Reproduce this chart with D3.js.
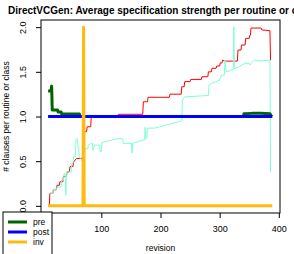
<!DOCTYPE html>
<html>
<head>
  <meta charset="UTF-8">
  <script src="https://d3js.org/d3.v7.min.js"></script>
  <style>
    body { margin: 0; padding: 0; background: #fff; }
    svg { display: block; font-family: "Liberation Sans", Arial, sans-serif; }
  </style>
</head>
<body>
<script>
  // series (revision, value)
  const redRev = [12, 13, 18, 19, 24, 25, 29, 30, 35, 36, 41, 42, 46, 47, 52, 53, 58, 68, 69, 75, 76, 82, 83, 128, 129, 170, 171, 178, 179, 215, 216, 235, 236, 240, 241, 250, 251, 269, 270, 280, 281, 286, 287, 294, 295, 300, 301, 304, 305, 311, 330, 331, 336, 337, 343, 344, 350, 351, 352, 353, 370, 371, 385, 386];
  const redVal = [0, 0.14, 0.14, 0.18, 0.18, 0.23, 0.23, 0.27, 0.27, 0.33, 0.33, 0.38, 0.38, 0.44, 0.44, 0.49, 0.53, 0.53, 0.83, 0.83, 0.885, 0.885, 1.01, 1.01, 1.025, 1.025, 1.165, 1.165, 1.215, 1.215, 1.25, 1.25, 1.333, 1.333, 1.39, 1.39, 1.415, 1.415, 1.445, 1.445, 1.5, 1.5, 1.54, 1.54, 1.565, 1.565, 1.6, 1.6, 1.63, 1.62, 1.62, 1.744, 1.744, 1.8, 1.8, 1.875, 1.875, 1.91, 1.91, 1.99, 1.99, 1.97, 1.96, 1.63];

  const aquaRev = [13, 18, 19, 24, 25, 32, 33, 36, 37, 39, 40, 41, 49, 50, 52, 53, 56, 57, 59, 61, 63, 66, 71, 72, 77, 78, 83, 85, 86, 88, 97, 98, 100, 101, 108, 117, 131, 136, 137, 151, 152, 153, 170, 173, 174, 175, 177, 178, 190, 199, 221, 236, 237, 241, 255, 281, 282, 286, 294, 300, 303, 308, 309, 311, 320, 323, 324, 325, 333, 342, 350, 351, 353, 359, 368, 385, 386];
  const aquaVal = [0.14, 0.14, 0.18, 0.18, 0.21, 0.21, 0.29, 0.29, 0.36, 0.36, 0.12, 0.38, 0.38, 0.475, 0.475, 0.55, 0.55, 0.74, 0.755, 0.66, 0.55, 0.51, 0.51, 0.64, 0.64, 0.68, 0.7, 0.7, 0.62, 0.68, 0.68, 0.605, 0.605, 0.706, 0.72, 0.736, 0.755, 0.755, 0.7, 0.7, 0.59, 0.7, 0.736, 0.736, 0.88, 0.755, 0.755, 0.87, 0.87, 0.885, 0.923, 0.953, 1.184, 1.22, 1.225, 1.235, 1.352, 1.37, 1.389, 1.41, 1.464, 1.464, 1.632, 1.5, 1.52, 1.52, 2.0, 1.535, 1.557, 1.595, 1.595, 1.576, 1.595, 1.632, 1.62, 1.632, 0.38];

  const preRev = [10, 15, 16, 17, 26, 27, 32, 33, 63, 64, 340, 341, 355, 370, 385, 388];
  const preVal = [1.285, 1.285, 1.34, 1.072, 1.072, 1.05, 1.05, 1.027, 1.027, 1.0, 1.0, 1.03, 1.035, 1.035, 1.03, 1.0];

  const postRev = [10, 389];
  const postVal = [1, 1];

  const invRev = [10, 69, 70, 71, 389];
  const invVal = [0, 0, 2, 0, 0];

  const xTicks = [100, 200, 300, 400];
  const yTicks = [0, 0.5, 1, 1.5, 2];

  const legendNames = ["pre", "post", "inv"];
  const legendColors = ["#006400", "#0000ff", "#ffb90f"];

  const width = 294, height = 254;
  const plot = { left: 41, right: 280, top: 20, bottom: 213 };

  const svg = d3.select("body").append("svg")
    .attr("width", width)
    .attr("height", height);

  const x = d3.scaleLinear().domain([-2, 402]).range([plot.left, plot.right]);
  const y = d3.scaleLinear().domain([-0.08, 2.08]).range([plot.bottom, plot.top]);

  const line = d3.line().x(d => x(d[0])).y(d => y(d[1]));
  const zip = (a, b) => a.map((r, i) => [r, b[i]]);

  const series = [
    { pts: zip(redRev, redVal), color: "#ff0000", w: 1 },
    { pts: zip(aquaRev, aquaVal), color: "#7fffd4", w: 1 },
    { pts: zip(preRev, preVal), color: legendColors[0], w: 3 },
    { pts: zip(postRev, postVal), color: legendColors[1], w: 3 },
    { pts: zip(invRev, invVal), color: legendColors[2], w: 3 }
  ];

  svg.append("g").selectAll("path")
    .data(series)
    .join("path")
    .attr("d", d => line(d.pts))
    .attr("fill", "none")
    .attr("stroke", d => d.color)
    .attr("stroke-width", d => d.w)
    .attr("stroke-linejoin", "round");

  // axes
  const xAxis = svg.append("g")
    .attr("transform", `translate(0,${plot.bottom})`)
    .call(d3.axisBottom(x).tickValues(xTicks).tickSize(5).tickPadding(8).tickFormat(d3.format("d")));
  xAxis.select(".domain").remove();
  xAxis.selectAll("text").attr("font-size", 9).attr("fill", "#000").attr("font-family", null);

  const yAxis = svg.append("g")
    .attr("transform", `translate(${plot.left},0)`)
    .call(d3.axisLeft(y).tickValues(yTicks).tickSize(5).tickFormat(d3.format(".1f")));
  yAxis.select(".domain").remove();
  yAxis.selectAll("text")
    .attr("font-size", 9).attr("fill", "#000").attr("font-family", null)
    .attr("x", null).attr("dy", null)
    .attr("text-anchor", "middle")
    .attr("transform", "translate(-15,0) rotate(-90)");

  svg.append("rect")
    .attr("x", plot.left).attr("y", plot.top)
    .attr("width", plot.right - plot.left).attr("height", plot.bottom - plot.top)
    .attr("fill", "none").attr("stroke", "#000").attr("stroke-width", 1);

  svg.append("text")
    .attr("x", 8).attr("y", 14)
    .attr("font-size", 10).attr("font-weight", "bold")
    .text("DirectVCGen: Average specification strength per routine or class");

  svg.append("text")
    .attr("x", (plot.left + plot.right) / 2).attr("y", 251)
    .attr("text-anchor", "middle").attr("font-size", 8.5)
    .text("revision");

  svg.append("text")
    .attr("transform", `translate(9,${(plot.top + plot.bottom) / 2}) rotate(-90)`)
    .attr("text-anchor", "middle").attr("font-size", 8.5)
    .text("# clauses per routine or class");

  // legend
  const leg = svg.append("g").attr("transform", "translate(3,212)");
  leg.append("rect")
    .attr("width", 49).attr("height", 60)
    .attr("fill", "#fff").attr("stroke", "#000");
  const item = leg.selectAll("g.item")
    .data(legendNames)
    .join("g")
    .attr("class", "item")
    .attr("transform", (d, i) => `translate(0,${10 + i * 10})`);
  item.append("line")
    .attr("x1", 5).attr("x2", 24)
    .attr("stroke", (d, i) => legendColors[i]).attr("stroke-width", 3);
  item.append("text")
    .attr("x", 30).attr("dy", "0.35em")
    .attr("font-size", 8.5)
    .text(d => d);
</script>
</body>
</html>
